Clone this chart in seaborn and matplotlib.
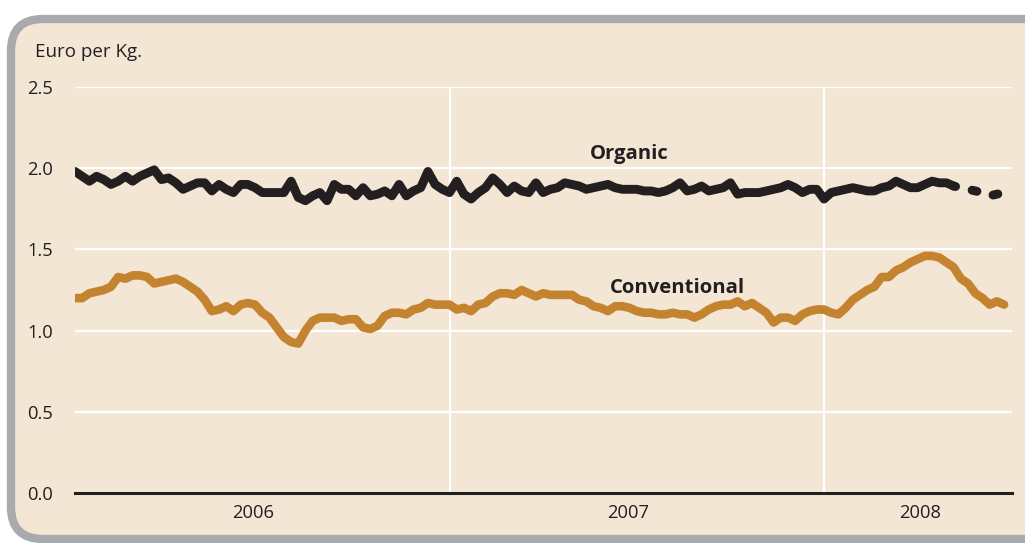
import numpy as np
import pandas as pd
import seaborn as sns
import matplotlib.pyplot as plt
from matplotlib.patches import FancyBboxPatch
from matplotlib.transforms import IdentityTransform

# weekly prices, euro per kg, first week of 2006 onwards
organic = [
    1.98, 1.95, 1.92, 1.95, 1.93, 1.90, 1.92, 1.95, 1.92, 1.95,
    1.97, 1.99, 1.93, 1.94, 1.91, 1.87, 1.89, 1.91, 1.91, 1.86,
    1.90, 1.87, 1.85, 1.90, 1.90, 1.88, 1.85, 1.85, 1.85, 1.85,
    1.92, 1.82, 1.80, 1.83, 1.85, 1.80, 1.90, 1.87, 1.87, 1.83,
    1.88, 1.83, 1.84, 1.86, 1.83, 1.90, 1.83, 1.86, 1.88, 1.98,
    1.90, 1.87, 1.85, 1.92, 1.84, 1.81, 1.85, 1.88, 1.94, 1.90,
    1.85, 1.89, 1.86, 1.85, 1.91, 1.85, 1.87, 1.88, 1.91, 1.90,
    1.89, 1.87, 1.88, 1.89, 1.90, 1.88, 1.87, 1.87, 1.87, 1.86,
    1.86, 1.85, 1.86, 1.88, 1.91, 1.86, 1.87, 1.89, 1.86, 1.87,
    1.88, 1.91, 1.84, 1.85, 1.85, 1.85, 1.86, 1.87, 1.88, 1.90,
    1.88, 1.85, 1.87, 1.87, 1.81, 1.85, 1.86, 1.87, 1.88, 1.87,
    1.86, 1.86, 1.88, 1.89, 1.92, 1.90, 1.88, 1.88, 1.90, 1.92,
    1.91, 1.91, 1.89, 1.88, 1.87, 1.86, 1.85, 1.83, 1.84, 1.85,
]
conventional = [
    1.20, 1.20, 1.23, 1.24, 1.25, 1.27, 1.33, 1.32, 1.34, 1.34,
    1.33, 1.29, 1.30, 1.31, 1.32, 1.30, 1.27, 1.24, 1.19, 1.12,
    1.13, 1.15, 1.12, 1.16, 1.17, 1.16, 1.11, 1.08, 1.02, 0.96,
    0.93, 0.92, 1.00, 1.06, 1.08, 1.08, 1.08, 1.06, 1.07, 1.07,
    1.02, 1.01, 1.03, 1.09, 1.11, 1.11, 1.10, 1.13, 1.14, 1.17,
    1.16, 1.16, 1.16, 1.13, 1.14, 1.12, 1.16, 1.17, 1.21, 1.23,
    1.23, 1.22, 1.25, 1.23, 1.21, 1.23, 1.22, 1.22, 1.22, 1.22,
    1.19, 1.18, 1.15, 1.14, 1.12, 1.15, 1.15, 1.14, 1.12, 1.11,
    1.11, 1.10, 1.10, 1.11, 1.10, 1.10, 1.08, 1.10, 1.13, 1.15,
    1.16, 1.16, 1.18, 1.15, 1.17, 1.14, 1.11, 1.05, 1.08, 1.08,
    1.06, 1.10, 1.12, 1.13, 1.13, 1.11, 1.10, 1.14, 1.19, 1.22,
    1.25, 1.27, 1.33, 1.33, 1.37, 1.39, 1.42, 1.44, 1.46, 1.46,
    1.45, 1.42, 1.39, 1.32, 1.29, 1.23, 1.20, 1.16, 1.18, 1.16,
]
years = ["2006", "2007", "2008"]
year_label_week = [24.7, 76.8, 117.4]
weeks_per_year = 52
provisional_from = 122  # organic shown dashed from this week on

weeks = np.arange(len(organic))
df = pd.DataFrame({"week": weeks, "organic": organic, "conventional": conventional})

bg = "#F3E6D4"
black = "#231F20"
orange = "#C4832F"

sns.set_style("white")
plt.rcParams["font.family"] = ["Open Sans", "DejaVu Sans"]
plt.rcParams["lines.scale_dashes"] = False

fig = plt.figure(figsize=(10.25, 5.43), dpi=100)
panel = FancyBboxPatch((11, 4), 1060, 520, boxstyle="round,pad=0,rounding_size=32",
                       transform=IdentityTransform(), facecolor=bg,
                       edgecolor="#A8AAAD", linewidth=6, zorder=-1)
fig.patches.append(panel)

ax = fig.add_axes([75 / 1025, 50 / 543, 937 / 1025, 406 / 543])
ax.set_facecolor("none")

sns.lineplot(data=df, x="week", y="conventional", color=orange, linewidth=6.2,
             solid_capstyle="round", solid_joinstyle="round", ax=ax, zorder=3)
solid = df[df["week"] <= provisional_from]
tail = df[df["week"] >= provisional_from]
sns.lineplot(data=solid, x="week", y="organic", color=black, linewidth=6.4,
             solid_capstyle="round", solid_joinstyle="round", ax=ax, zorder=4)
sns.lineplot(data=tail, x="week", y="organic", color=black, linewidth=6.4,
             linestyle=(2.2, (3.6, 12.2)), dash_capstyle="round", ax=ax, zorder=4)

ax.set_xlim(0, 130.1)
ax.set_ylim(0, 2.5)
ax.set_yticks([0, 0.5, 1.0, 1.5, 2.0, 2.5])
ax.set_yticklabels([f"{v:.1f}" for v in ax.get_yticks()])

n_years = len(years)
ax.set_xticks(year_label_week)
ax.set_xticklabels(years)
ax.set_xticks([weeks_per_year * i for i in range(1, n_years)], minor=True)
ax.tick_params(axis="both", which="both", length=0, labelsize=13.2, colors="#231F20")
ax.tick_params(axis="y", pad=16)
ax.tick_params(axis="x", pad=8)

ax.grid(axis="y", color="white", linewidth=1.6)
ax.grid(axis="x", which="minor", color="white", linewidth=1.6)
ax.grid(axis="x", which="major", visible=False)
ax.set_axisbelow(True)

for side in ["top", "right", "left"]:
    ax.spines[side].set_visible(False)
ax.spines["bottom"].set_color(black)
ax.spines["bottom"].set_linewidth(2.2)
ax.spines["bottom"].set_zorder(5)

ax.set_xlabel("")
ax.set_ylabel("")

ax.text(76.9, 2.09, "Organic", ha="center", va="center", fontsize=14.6,
        fontweight="bold", color=black)
ax.text(83.6, 1.26, "Conventional", ha="center", va="center", fontsize=14.6,
        fontweight="bold", color=black)
fig.text(35 / 1025, 1 - 52 / 543, "Euro per Kg.", ha="left", va="center",
         fontsize=13.5, color=black)

fig.savefig("out.png", dpi=100, facecolor="white")
